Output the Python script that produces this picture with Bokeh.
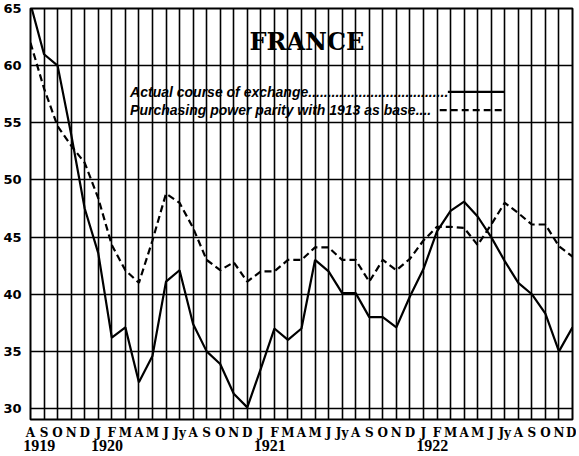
from bokeh.plotting import figure
from bokeh.models import FixedTicker, Label, Range1d, AllLabels, LinearAxis
from bokeh.embed import file_html
from bokeh.resources import INLINE

# ---- data ----
months = ["A", "S", "O", "N", "D"] + ["J", "F", "M", "A", "M", "J", "Jy", "A", "S", "O", "N", "D"] * 3
years = ["1919", "1920", "1921", "1922"]

actual_exchange = [65.4, 61.0, 60.0, 54.0, 47.5,
                   43.6, 36.2, 37.1, 32.3, 34.6, 41.1, 42.1, 37.4, 35.0, 33.9, 31.3, 30.1,
                   33.5, 37.0, 36.0, 37.0, 43.0, 42.0, 40.1, 40.1, 38.0, 38.0, 37.1, 39.8,
                   42.2, 45.5, 47.3, 48.1, 46.8, 45.0, 42.9, 41.0, 40.0, 38.3, 35.0, 37.1]

purchasing_parity = [62.0, 58.0, 54.7, 53.0, 51.5,
                     48.4, 44.3, 42.1, 41.0, 44.7, 48.8, 48.0, 45.8, 43.0, 42.1, 42.8, 41.1,
                     42.0, 42.0, 43.0, 43.0, 44.1, 44.1, 43.0, 43.0, 41.1, 43.0, 42.1, 43.1,
                     44.7, 45.9, 45.9, 45.8, 44.3, 46.1, 48.0, 47.1, 46.1, 46.1, 44.2, 43.3]

y_ticks = [30, 35, 40, 45, 50, 55, 60, 65]

title_text = "FRANCE"
legend_actual = "Actual course of exchange"
legend_parity = "Purchasing power parity with 1913 as base"

# ---- derived ----
x_idx = list(range(len(months)))
year_starts = [0] + [i for i in range(1, len(months)) if months[i] == "J" and months[i - 1] == "D"]

p = figure(width=576, height=456,
           x_range=Range1d(0, len(months) - 1), y_range=Range1d(29.04, 65.0),
           output_backend="svg", toolbar_location=None,
           min_border_left=28, min_border_right=4, min_border_top=8, min_border_bottom=37,
           background_fill_color="white", border_fill_color="white")

p.outline_line_color = "black"
p.outline_line_width = 2
p.outline_line_alpha = 1.0

# x axis: month letters
p.xaxis.ticker = FixedTicker(ticks=x_idx)
p.xaxis.major_label_overrides = {i: m for i, m in enumerate(months)}
p.xaxis.major_label_policy = AllLabels()
p.xaxis.axis_line_color = None
p.xaxis.major_tick_line_color = None
p.xaxis.minor_tick_line_color = None
p.xaxis.major_label_standoff = 0
p.xaxis.major_label_text_font = "DejaVu Serif"
p.xaxis.major_label_text_font_style = "bold"
p.xaxis.major_label_text_font_size = "12px"
p.xaxis.major_label_text_color = "black"

# second bottom axis: years
year_axis = LinearAxis(ticker=FixedTicker(ticks=[i + 0.65 for i in year_starts]),
                       major_label_overrides={i + 0.65: y for i, y in zip(year_starts, years)},
                       major_label_policy=AllLabels(),
                       axis_line_color=None, major_tick_line_color=None, minor_tick_line_color=None,
                       major_label_standoff=-9,
                       major_label_text_font="Liberation Serif", major_label_text_font_style="bold",
                       major_label_text_font_size="16px", major_label_text_color="black")
p.add_layout(year_axis, "below")

# y axis
p.yaxis.ticker = FixedTicker(ticks=y_ticks)
p.yaxis.axis_line_color = None
p.yaxis.major_tick_line_color = None
p.yaxis.minor_tick_line_color = None
p.yaxis.major_label_standoff = 3
p.yaxis.major_label_text_font = "DejaVu Sans"
p.yaxis.major_label_text_font_style = "bold"
p.yaxis.major_label_text_font_size = "13px"
p.yaxis.major_label_text_color = "black"

# grid
for g in (p.xgrid, p.ygrid):
    g.grid_line_color = "black"
    g.grid_line_width = 1.6
    g.grid_line_alpha = 1.0

# data lines
p.line(x_idx, actual_exchange, line_color="black", line_width=2.2)
p.line(x_idx, purchasing_parity, line_color="black", line_width=2.2, line_dash="7 4")

# title
p.add_layout(Label(x=20.4, y=62.1, text=title_text, text_align="center", text_baseline="middle",
                   text_font="DejaVu Serif", text_font_style="bold", text_font_size="24px",
                   text_color="black"))

# legend
p.add_layout(Label(x=7.35, y=57.7, text=legend_actual + "." * 36, text_align="left",
                   text_baseline="alphabetic", text_font="Liberation Sans",
                   text_font_style="bold italic", text_font_size="14px", text_color="black"))
p.add_layout(Label(x=7.35, y=56.1, text=legend_parity + "." * 4, text_align="left",
                   text_baseline="alphabetic", text_font="Liberation Sans",
                   text_font_style="bold italic", text_font_size="14px", text_color="black"))
p.line([30.8, 35.0], [57.7, 57.7], line_color="black", line_width=2.2)
p.line([30.2, 35.0], [56.1, 56.1], line_color="black", line_width=2.2, line_dash="7 4")

open("out.html", "w").write(file_html(p, INLINE))
